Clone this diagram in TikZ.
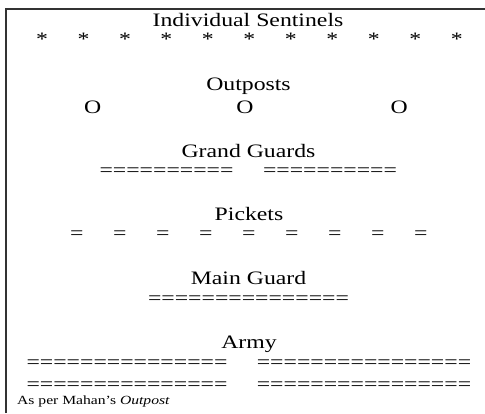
\documentclass[tikz,border=0pt]{standalone}
\usepackage{fontspec}
\setmainfont[FakeStretch=1.25]{Liberation Serif}
\begin{document}
\begin{tikzpicture}[x=1pt,y=-1pt,
  every node/.style={inner sep=0pt, anchor=base, text=black},
  head/.style={font=\fontsize{19}{22}\selectfont},
  sym/.style={font=\fontsize{19}{22}\selectfont},
  note/.style={anchor=base west, font=\fontsize{12.5}{14}\selectfont},
  frame/.style={line width=1.5pt, draw=black!80}]
\useasboundingbox (0,0) rectangle (485,413);
\draw[frame] (6,413) -- (6,9) -- (485,9);
% Individual sentinels
\node[head] (sentinels) at (248,26) {Individual Sentinels};
\foreach \i in {0,...,10} \node[sym] (ast\i) at ({42+41.47*\i},45) {*};
% Outposts
\node[head] (outposts) at (248.5,90) {Outposts};
\node[sym] (o1) at (92.7,113) {O};
\node[sym] (o2) at (245,113) {O};
\node[sym] (o3) at (399.3,113) {O};
% Grand guards
\node[head] (grand) at (248.5,157) {Grand Guards};
\node[sym] (gg1) at (166.5,176) {==========};
\node[sym] (gg2) at (330,176) {==========};
% Pickets
\node[head] (pickets) at (249,220) {Pickets};
\foreach \i in {0,...,8} \node[sym] (pk\i) at ({76.7+43*\i},239) {=};
% Main guard
\node[head] (main) at (248.5,284) {Main Guard};
\node[sym] (mg) at (248.5,304) {===============};
% Army
\node[head] (army) at (249,348) {Army};
\node[sym] (a1) at (127,368) {===============};
\node[sym] (a2) at (364,368) {================};
\node[sym] (a3) at (127,390) {===============};
\node[sym] (a4) at (364,390) {================};
% note
\node[note] (note) at (17,404.5) {As per Mahan’s \textit{Outpost}};
\end{tikzpicture}
\end{document}
